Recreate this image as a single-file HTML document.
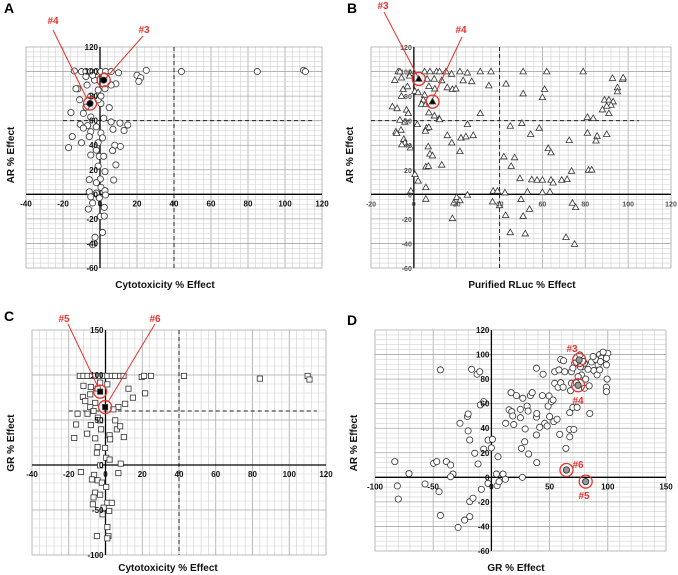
<!DOCTYPE html>
<html><head><meta charset="utf-8">
<style>
html,body{margin:0;padding:0;background:#fff;}
svg{display:block;font-family:"Liberation Sans",sans-serif;}
</style></head>
<body>
<svg id="fig" width="678" height="575" viewBox="0 0 678 575" xmlns="http://www.w3.org/2000/svg"></svg>
<script>
// ---- Panel A data: Cytotoxicity (x) vs AR (y) ----
const aX=[-13.9,-10,-7.6,-5,-2,0.5,3,6,10,20,22,21,25,44,85,110,111,-12,-13,-7,-3,8.6,6,2.7,-1,-5,-11,0.5,5,-15.7,-9,-5,2,6,-10.7,-6.7,-2,10.8,15,13,7,-9,-5,0.5,1.4,-15,-5.8,-10,-1,8,11,-17,6.8,-2,-5,-0.4,2,-1,8.6,2.7,-5.8,0.2,7.4,-2,0.5,-5.8,2.7,-2,3,-5,-0.4,-4,2.3,-6.3,0.2,2.3,1.4,-2.7,-4,-7.6,2.3,-4,-1,0.5,-7.6];
const aY=[100.5,100,100,100,100,100,100,100,99,97,95,92,101,100,100,101,100,86,86,89,93,90,89,86,85,80,77,74,70.6,66.6,66,63,62,59,57,56,55,58,56.5,52,53,54,51,50,46,47,47,42,42,40,39,38,35.6,36,32,31,31,23,24,18.5,12,12.5,11.7,9.5,5.7,2,3,1,-0.5,-2,-3,-7,-10.6,-12,-18,-17.7,-31,-35,-41,96,96.5,97,77,80,71];
const aHiX=[2,-5.4]; const aHiY=[93,74];
// ---- Panel B data: Purified RLuc (x) vs AR (y) ----
const bX=[-7.3,-6.5,-1.6,5,7.5,10.6,12,15,17.6,21.5,25,31,36,51,62,79,-8.9,-5.8,-2,6.2,9.5,13,23,27,43,35,15.6,18,19.6,-5,-3,0.5,2,7,9.8,51,61,60,-5.8,5,92.7,97.4,97.7,95,95,89,91,93,92,90,88,91,4.4,3.6,5.6,-10,-7.8,-3.4,-2.6,7,9.6,31,11.8,12,-6.5,-4.2,1.6,5.9,7,5.4,-6,-8.4,-8,-4.7,-4.2,-5.6,-1.6,6.7,7.5,8.7,5.6,6.8,13,15.6,17.7,21.5,22,24.3,25,27.7,45,50.4,54.5,58.5,62.7,64,72.5,81,81,83.7,85.5,85,90,42,47,45.4,0.5,2,5.6,-1.4,49.5,55,57.5,60,64,65,69,71.5,73.6,81.5,83,37,39,42.5,53,60,63.5,25,5.6,20,18.7,21.5,36.7,40,50,54,51,42.8,18,45,52,74,75.5,71,75];
const bY=[100,100,98.6,100,100,100,100,100,98,100,99,100,100,100,100,100,93,95,96.5,94,94,92.7,92.7,92,90,88.6,87,85.6,86,85.6,87.8,84,83,88,86,82,85.6,79,80,81,94.6,93.8,95,87,83.7,77,77,75.5,72.8,72,69,66,77,73.6,73.4,71.5,70,68.8,66,66.6,64,66,61.7,61,60.6,59,57,54,54.6,51.6,52.4,51,49.7,45,42,40.5,38,38.9,33,31.5,22.5,23,24,48,42,35,46,47,57,48,55.7,58,49,54,37.5,34,44,50,62.8,62,47.5,43.7,49,30.7,30,23,16.3,11,5.7,2.7,13,12,11.7,11.7,11.7,9.5,11.7,12.2,19,19.8,20,2.7,2.7,1.4,2,1.6,2,-0.5,-3.8,-2.4,-6.8,-5,-6,-9,-4,-12,-17.7,-17,-19.6,-31,-32,-7,-10.6,-35,-40.5];
const bHiX=[2.3,8.7]; const bHiY=[94,75.5];
// ---- Panel C data: Cytotoxicity (x) vs GR (y) ----
const cX=[-14,-12,-9.8,-7.4,-5.6,-3.3,-1,1,3.4,5.3,8,9.8,19.7,21,24.8,42.7,84,110,111,-12,-8,-4.3,1,-2.9,12.5,21.6,14.9,-12.3,-11,-8.3,-5.6,-8.3,10.7,7,4.3,-15.2,-9.8,-6.5,-4.2,-2.9,5.3,-16,-8,-2.4,6.2,8,-17,-10,-5.6,2.2,2.5,10,-4.3,-0.2,-4.7,0.4,2.2,8.3,-2.9,-13.4,7,-6.2,-7.4,-4.3,-2,0.4,-5.6,-2.9,-6.5,-6.9,1,3.4,-1,-1.6,2,1,-4.7,1.6,1];
const cY=[99,99,99,99,99,99,99,99,99,99,99,99,97.8,99,99,99,96,99,95,88,86.7,85,89.6,91.5,84.8,79.6,74.8,75.6,71,78.5,69,64.4,68,64.4,61.8,57,57,60,52.6,49.6,49.6,45,44.4,39.6,39.6,43,30,34.8,29.6,33,28.5,31,20,19,13.7,8,6,1.5,-0.4,-7.8,-9,-11,-16,-17,-19.6,-24.4,-30.7,-33,-36,-43.7,-42,-42,-47.4,-54.8,-51,-69,-79,-79,-81.5];
const cHiX=[-2.9,-0.2]; const cHiY=[81.5,64.4];
// ---- Panel D data: GR (x) vs AR (y) ----
const dX=[-83,-80.8,-80,-70.8,-57,-49.6,-47,-45,-43.8,-43.8,-38.7,-35,-33,-35,-27,-28.6,-23,-20.6,-20,-20,-18.6,-18.6,-18.6,-17,-15.8,-14.3,-11.5,-12.3,-10,-9.5,-8.6,-6.6,-6.6,-2.9,-2.9,0.9,0,4.3,4.9,6.6,5.7,10,12,12.3,15.2,16.9,17.5,18.3,19.2,21.5,24.9,24.9,25.8,27,26.6,29,28.6,30.7,31.5,32,33.5,35,38.7,38.7,38.7,39,39,41.5,43.8,44.4,45.8,47.9,48.7,49.5,50,51.5,53,53.6,54.4,54.4,56.4,57.3,58.7,58,59.6,59.6,61.6,62,63,64,64.5,67.3,67.3,67.3,68,68.8,68.8,70,70.8,71.6,73,73.6,74.5,75.4,76,77.4,78,80,81,81,84,84.5,86,88,89.7,90.8,91.7,93,96,97.4,98.8,98.8,99.4,98.8,98.8,100,94.6,93.7,98.8,87.4,96,93,83,80,76.5,70,74.5,78.8];
const dY=[12.8,-7,-17.7,3,-5.4,11.4,12.8,-11.7,87.5,-31,12.8,10,2.7,0.5,44,-40.8,-34.8,49.5,51.6,37.8,30.4,-19.8,-32,88,-17,19.6,10.9,84,86,59,-9.8,61.7,23,30.4,-4.9,31,24,2.7,-6.8,-3.5,16.8,2.7,-1.6,44,55,69,53.5,50,43,66.6,55.4,48.6,23.6,64.4,0,39.4,29,58,54,19,66.6,69,34.5,49,88.9,52,12,40.8,66.6,84,44,41.8,58,66.3,49.5,61.7,63,45.4,76.6,86,47.3,73.4,35,87.5,96,77,73.4,95,86,23.6,6,39,33,52.7,70.6,76.6,86,57,39,93,77,57,75,95.6,99.7,83.4,90,72.6,-3.5,80,74.5,52,94,87,96,83.4,91.6,100,99,95.6,100.5,91.6,80,73.4,69.8,101,97,94.3,97,98.4,102,87.5,88,93,90,89,82,94.3];
const dHiX=[75.4,74.5,64.5,81]; const dHiY=[95.6,75,6,-3.5];

const NS="http://www.w3.org/2000/svg";
const svg=document.getElementById('fig');
function mk(tag,attrs,parent){const e=document.createElementNS(NS,tag);for(const k in attrs)e.setAttribute(k,attrs[k]);(parent||svg).appendChild(e);return e;}

function panel(cfg){
  const g=mk('g',{});
  
  
  const sx=v=>cfg.x0+(v-cfg.xmin)/(cfg.xmax-cfg.xmin)*(cfg.x1-cfg.x0);
  const sy=v=>cfg.y1-(v-cfg.ymin)/(cfg.ymax-cfg.ymin)*(cfg.y1-cfg.y0);
  const grid=mk('g',{},g);
  
  
  for(let v=cfg.xmin;v<=cfg.xmax+1e-6;v+=cfg.xminor){
    const maj=Math.abs((v-cfg.xmin)%cfg.xmajor)<1e-6;
    mk('line',{x1:sx(v),x2:sx(v),y1:cfg.y0,y2:cfg.y1,stroke:maj?'#a8a8a8':'#d0d0d0','stroke-width':maj?0.8:0.6},grid);
  }
  for(let v=cfg.ymin;v<=cfg.ymax+1e-6;v+=cfg.yminor){
    const maj=Math.abs((v-cfg.ymin)%cfg.ymajor)<1e-6;
    mk('line',{x1:cfg.x0,x2:cfg.x1,y1:sy(v),y2:sy(v),stroke:maj?'#a8a8a8':'#d0d0d0','stroke-width':maj?0.8:0.6},grid);
  }
  if(cfg.vdash){
    const dv=mk('line',{x1:sx(40),x2:sx(40),y1:cfg.y0,y2:cfg.y1,stroke:'#222','stroke-width':1,'stroke-dasharray':'4,3'},g);
    
    
  }
  if(cfg.hdash){
    const dh=mk('line',{x1:sx(cfg.hdash[0]),x2:sx(cfg.hdash[1]),y1:sy(60),y2:sy(60),stroke:'#222','stroke-width':1,'stroke-dasharray':'4,3'},g);
    
    
  }
  const xa=mk('line',{x1:cfg.x0,x2:cfg.x1,y1:sy(0),y2:sy(0),stroke:'#000','stroke-width':1.3},g);
  
  
  const ya=mk('line',{x1:sx(0),x2:sx(0),y1:cfg.y0,y2:cfg.y1,stroke:'#000','stroke-width':1.3},g);
  
  
  const pts=mk('g',{},g);
  
  
  function marker(x,y,fill){
    const px=sx(x),py=sy(y);let e;
    if(cfg.shape==='circle') e=mk('circle',{cx:px,cy:py,r:cfg.r,fill:fill,stroke:'#333','stroke-width':0.8},pts);
    else if(cfg.shape==='square') e=mk('rect',{x:px-2.6,y:py-2.6,width:5.2,height:5.2,fill:fill,stroke:'#333','stroke-width':0.8},pts);
    else e=mk('polygon',{points:`${px},${py-3.3} ${px-3.2},${py+2.3} ${px+3.2},${py+2.3}`,fill:fill,stroke:'#333','stroke-width':0.8},pts);
    return e;
  }
  for(let i=0;i<cfg.xs.length;i++){
    const e=marker(cfg.xs[i],cfg.ys[i],'#fff');
    
    
  }
  const tl=mk('g',{'font-size':cfg.tfs||8,'font-weight':'bold',fill:cfg.tcol||'#111'},g);
  
  
  for(let v=cfg.xmin;v<=cfg.xmax+1e-6;v+=cfg.xmajor){
    const t=mk('text',{x:sx(v),y:sy(0)+12,'text-anchor':'middle'},tl);t.textContent=v;
    
    
  }
  for(let v=cfg.ymin;v<=cfg.ymax+1e-6;v+=cfg.ymajor){
    const t=mk('text',{x:sx(0)-2,y:sy(v)+3,'text-anchor':'end'},tl);t.textContent=v;
    
    
  }
  for(let i=0;i<cfg.hx.length;i++){
    const e=marker(cfg.hx[i],cfg.hy[i],cfg.hiFill);
    
    
    const c=mk('circle',{cx:sx(cfg.hx[i]),cy:sy(cfg.hy[i]),r:6.5,fill:'none',stroke:'#e8322d','stroke-width':1.3},g);
    
    
  }
  const xt=mk('text',{x:cfg.xtx,y:cfg.xty,'text-anchor':'middle','font-size':10,'font-weight':'bold',fill:'#111'},g);
  xt.textContent=cfg.xtitle;
  
  
  const yt=mk('text',{x:0,y:0,'text-anchor':'middle','font-size':10,'font-weight':'bold',fill:'#111',transform:`translate(${cfg.ytx},${cfg.yty}) rotate(-90)`},g);
  yt.textContent=cfg.ytitle;
  
  
  const pl=mk('text',{x:cfg.lx,y:cfg.ly,'font-size':14,'font-weight':'bold',fill:'#000'},g);
  pl.textContent=cfg.letter;
  
  
}

panel({name:'panel-a',x0:26,x1:322,y0:47,y1:268,xmin:-40,xmax:120,ymin:-60,ymax:120,xmajor:20,xminor:4,ymajor:20,yminor:4,
  vdash:true,hdash:[-20,115],shape:'circle',r:3.1,xs:aX,ys:aY,hx:aHiX,hy:aHiY,hiFill:'#000',
  xtitle:'Cytotoxicity % Effect',xtx:165,xty:288,ytitle:'AR % Effect',ytx:14,yty:155,letter:'A',lx:4,ly:13});
panel({name:'panel-b',x0:371,x1:671,y0:47,y1:268,xmin:-20,xmax:120,ymin:-60,ymax:120,xmajor:20,xminor:4,ymajor:20,yminor:4,
  vdash:true,hdash:[-20,105],shape:'tri',xs:bX,ys:bY,hx:bHiX,hy:bHiY,hiFill:'#000',tfs:7,tcol:'#555',
  xtitle:'Purified  RLuc % Effect',xtx:522,xty:288,ytitle:'AR % Effect',ytx:353,yty:155,letter:'B',lx:347,ly:13});
panel({name:'panel-c',x0:32,x1:326,y0:330,y1:555,xmin:-40,xmax:120,ymin:-100,ymax:150,xmajor:20,xminor:4,ymajor:50,yminor:10,
  vdash:true,hdash:[-20,115],shape:'square',xs:cX,ys:cY,hx:cHiX,hy:cHiY,hiFill:'#000',
  xtitle:'Cytotoxicity % Effect',xtx:168,xty:571,ytitle:'GR % Effect',ytx:14,yty:443,letter:'C',lx:4,ly:321});
panel({name:'panel-d',x0:375,x1:666,y0:330,y1:551,xmin:-100,xmax:150,ymin:-60,ymax:120,xmajor:50,xminor:10,ymajor:20,yminor:4,
  vdash:false,hdash:null,shape:'circle',r:3.1,xs:dX,ys:dY,hx:dHiX,hy:dHiY,hiFill:'#999',
  xtitle:'GR % Effect',xtx:516,xty:571,ytitle:'AR % Effect',ytx:357,yty:443,letter:'D',lx:347,ly:325});

const ann=[
 ['#4',53,24,53,30,87,99],['#3',144,33,143,36,106,78],
 ['#3',383,9,384,12,418,77],['#4',461,33,462,37,433,98],
 ['#5',64,322,68,324,98,387],['#6',155,322,155,324,108,402],
 ['#3',572,352,null],['#4',578,404,null],['#6',578,468,null],['#5',584,499,null]
];
for(const a of ann){
  const t=mk('text',{x:a[1],y:a[2],'text-anchor':'middle','font-size':10,'font-weight':'bold',fill:'#e8322d'});
  t.textContent=a[0];
  
  
  if(a[3]!==null){
    const l=mk('line',{x1:a[3],y1:a[4],x2:a[5],y2:a[6],stroke:'#e8322d','stroke-width':1});
    
    
  }
}
</script>
</body></html>
